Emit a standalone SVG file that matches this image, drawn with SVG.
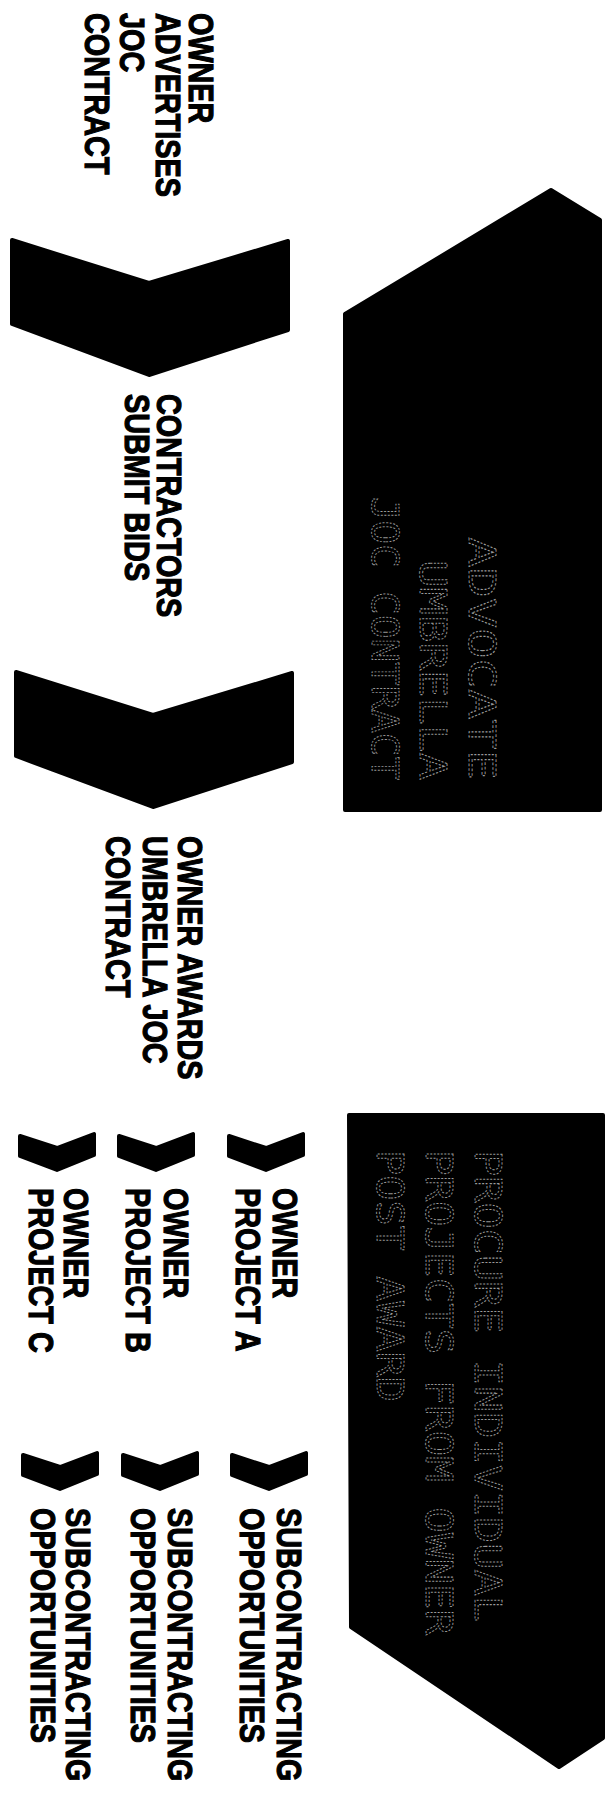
<svg xmlns="http://www.w3.org/2000/svg" width="613" height="1796" viewBox="0 0 613 1796">
<style>
.lbl{font-family:"Liberation Sans",Arial,sans-serif;font-weight:bold;font-size:36px;fill:#000;stroke:#000;stroke-width:1.2;stroke-linejoin:miter}
.box{fill:#000;stroke:#000;stroke-width:4;stroke-linejoin:round}
.btx{font-family:"DejaVu Sans Mono","Liberation Mono",monospace;font-size:38px;fill:none;stroke:#9a9a9a;stroke-width:0.9;stroke-dasharray:2 1.5}
.chev{fill:#000;stroke:#000;stroke-width:4;stroke-linejoin:round}
</style>
<defs>
<path id="bigchev" d="M2,2 L139,45 L278,3 L278,92 L139,137 L2,86 Z"/>
<path id="smallchev" d="M2,5 L39,17 L76,3 L76,24 L39,39 L2,25 Z"/>
</defs>
<rect width="613" height="1796" fill="#fff"/>

<g id="connectors">
<use href="#bigchev" class="chev" transform="translate(10,238)"/>
<use href="#bigchev" class="chev" transform="translate(14,670)"/>
<use href="#smallchev" class="chev" transform="translate(227,1131)"/>
<use href="#smallchev" class="chev" transform="translate(117,1131)"/>
<use href="#smallchev" class="chev" transform="translate(18,1131)"/>
<use href="#smallchev" class="chev" transform="translate(230,1450)"/>
<use href="#smallchev" class="chev" transform="translate(121,1450)"/>
<use href="#smallchev" class="chev" transform="translate(21,1450)"/>
</g>

<g id="n-advertise">
<text class="lbl" transform="translate(189,13) rotate(90) scale(0.8,1)">OWNER</text>
<text class="lbl" transform="translate(156,13) rotate(90) scale(0.8,1)">ADVERTISES</text>
<text class="lbl" transform="translate(120,13) rotate(90) scale(0.8,1)">JOC</text>
<text class="lbl" transform="translate(85,13) rotate(90) scale(0.8,1)">CONTRACT</text>
</g>

<g id="n-submit">
<text class="lbl" transform="translate(157,394) rotate(90) scale(0.8,1)">CONTRACTORS</text>
<text class="lbl" transform="translate(125,394) rotate(90) scale(0.8,1)">SUBMIT BIDS</text>
</g>

<g id="n-award">
<text class="lbl" transform="translate(178,836) rotate(90) scale(0.8,1)">OWNER AWARDS</text>
<text class="lbl" transform="translate(143,836) rotate(90) scale(0.8,1)">UMBRELLA JOC</text>
<text class="lbl" transform="translate(106,836) rotate(90) scale(0.8,1)">CONTRACT</text>
</g>

<g id="n-box1">
<path class="box" d="M345,314 L551,190 L600,220 L600,810 L345,810 Z"/>
<text class="btx" text-anchor="end" transform="translate(469,780) rotate(90)" textLength="243" lengthAdjust="spacingAndGlyphs">ADVOCATE</text>
<text class="btx" text-anchor="end" transform="translate(420,780) rotate(90)" textLength="220" lengthAdjust="spacingAndGlyphs">UMBRELLA</text>
<text class="btx" text-anchor="end" transform="translate(372,780) rotate(90)" textLength="283" lengthAdjust="spacingAndGlyphs">JOC CONTRACT</text>
</g>

<g id="n-box2">
<path class="box" d="M349,1115 L603,1115 L603,1738 L559,1767 L351,1627 Z"/>
<text class="btx" transform="translate(475,1150) rotate(90)" textLength="472" lengthAdjust="spacingAndGlyphs">PROCURE INDIVIDUAL</text>
<text class="btx" transform="translate(426,1150) rotate(90)" textLength="485" lengthAdjust="spacingAndGlyphs">PROJECTS FROM OWNER</text>
<text class="btx" transform="translate(377,1150) rotate(90)" textLength="252" lengthAdjust="spacingAndGlyphs">POST AWARD</text>
</g>

<g id="n-projA">
<text class="lbl" transform="translate(273,1188) rotate(90) scale(0.8,1)">OWNER</text>
<text class="lbl" transform="translate(236,1188) rotate(90) scale(0.8,1)">PROJECT A</text>
</g>
<g id="n-projB">
<text class="lbl" transform="translate(164,1188) rotate(90) scale(0.8,1)">OWNER</text>
<text class="lbl" transform="translate(126,1188) rotate(90) scale(0.8,1)">PROJECT B</text>
</g>
<g id="n-projC">
<text class="lbl" transform="translate(64,1188) rotate(90) scale(0.8,1)">OWNER</text>
<text class="lbl" transform="translate(29,1188) rotate(90) scale(0.8,1)">PROJECT C</text>
</g>

<g id="n-subA">
<text class="lbl" transform="translate(277,1508) rotate(90) scale(0.8,1)">SUBCONTRACTING</text>
<text class="lbl" transform="translate(240,1508) rotate(90) scale(0.8,1)">OPPORTUNITIES</text>
</g>
<g id="n-subB">
<text class="lbl" transform="translate(168,1508) rotate(90) scale(0.8,1)">SUBCONTRACTING</text>
<text class="lbl" transform="translate(131,1508) rotate(90) scale(0.8,1)">OPPORTUNITIES</text>
</g>
<g id="n-subC">
<text class="lbl" transform="translate(66,1508) rotate(90) scale(0.8,1)">SUBCONTRACTING</text>
<text class="lbl" transform="translate(31,1508) rotate(90) scale(0.8,1)">OPPORTUNITIES</text>
</g>
</svg>
